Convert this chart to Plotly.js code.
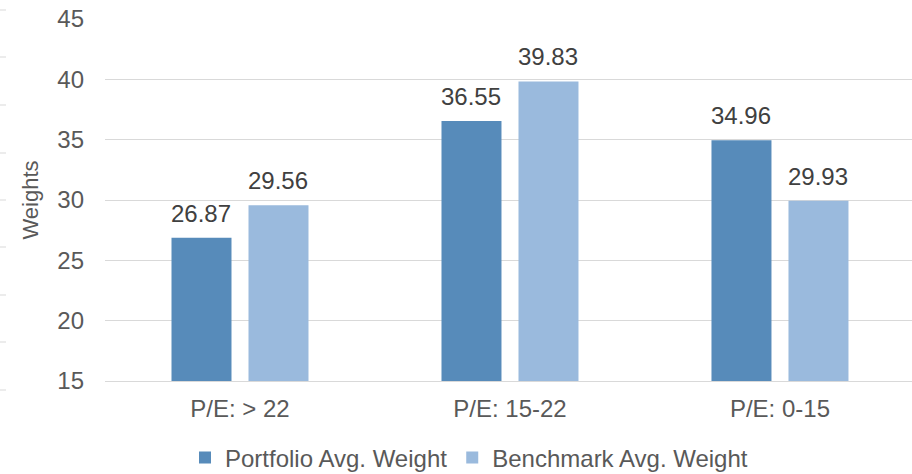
<!DOCTYPE html>
<html>
<head>
<meta charset="utf-8">
<script src="https://cdn.plot.ly/plotly-3.0.1.min.js"></script>
<style>body{margin:0;background:#fff;} #chart{width:912px;height:474px;}</style>
</head>
<body>
<div id="chart"></div>
<script>
const categories = ["P/E: > 22", "P/E: 15-22", "P/E: 0-15"];
const portfolio = [26.87, 36.55, 34.96];
const benchmark = [29.56, 39.83, 29.93];
const seriesNames = ["Portfolio Avg. Weight", "Benchmark Avg. Weight"];
const seriesColors = ["#578BBA", "#9ABADD"];
const yTicks = [15, 20, 25, 30, 35, 40, 45];

const FONT = "Liberation Sans, Arial, sans-serif";
const labelFont = {family: FONT, size: 24, color: "#404040"};

const traces = [
  {type: "bar", name: seriesNames[0], x: categories, y: portfolio, legendgroup: "p",
   marker: {color: seriesColors[0]}, hoverinfo: "skip"},
  {type: "bar", name: seriesNames[1], x: categories, y: benchmark, legendgroup: "b",
   marker: {color: seriesColors[1]}, hoverinfo: "skip"}
];

// value labels above bars (offset left/right of category centre to sit on each bar)
const annotations = [];
[portfolio, benchmark].forEach((series, s) => {
  series.forEach((v, i) => {
    annotations.push({x: categories[i], y: v, xref: "x", yref: "y",
      text: v.toFixed(2), showarrow: false, yanchor: "bottom", xanchor: "center",
      xshift: s === 0 ? -38.5 : 38.5, yshift: 9, font: labelFont});
  });
});

const shapes = [];
[10, 57, 105, 153, 200, 247, 295, 342, 390].forEach(y => {
  shapes.push({type: "line", xref: "paper", yref: "paper", layer: "above",
    x0: -105/807, x1: -99/807, y0: 1 - (y - 19)/362, y1: 1 - (y - 19)/362,
    line: {color: "#d9d9d9", width: 1}});
});

const layout = {
  width: 912, height: 474,
  margin: {l: 105, r: 0, t: 19, b: 93, autoexpand: false},
  paper_bgcolor: "#fff", plot_bgcolor: "#fff",
  font: {family: FONT, color: "#595959", size: 24},
  barmode: "group", bargap: 0.4296, bargroupgap: 0.221,
  xaxis: {type: "category", range: [-0.5, 2.489], showgrid: false,
    showline: true, linecolor: "#d9d9d9", linewidth: 1, ticks: "",
    ticklabelstandoff: 6,
    tickfont: {family: FONT, size: 24, color: "#595959"}, fixedrange: true},
  yaxis: {range: [15, 45], tickvals: yTicks, showgrid: true, gridcolor: "#d9d9d9",
    gridwidth: 1, zeroline: false, showline: false, ticks: "",
    ticklabelstandoff: 20,
    tickfont: {family: FONT, size: 24, color: "#595959"},
    title: {text: "Weights", font: {family: FONT, size: 22, color: "#595959"}, standoff: 12}},
  legend: {orientation: "h", x: 80/807, xanchor: "left", yref: "container", y: 16/474, yanchor: "middle",
    traceorder: "grouped", tracegroupgap: 16,
    font: {family: FONT, size: 24, color: "#595959"}, itemwidth: 30},
  showlegend: true,
  annotations: annotations,
  shapes: shapes
};

Plotly.newPlot("chart", traces, layout, {displayModeBar: false, staticPlot: true});
</script>
</body>
</html>
